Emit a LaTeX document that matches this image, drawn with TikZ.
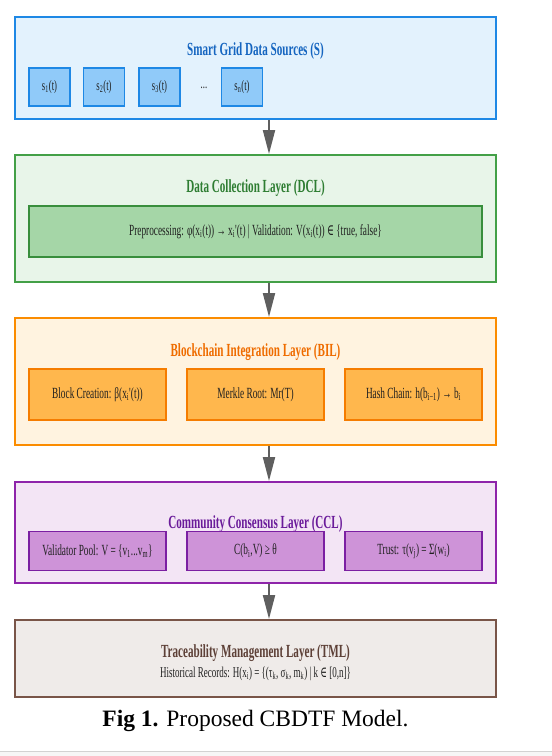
\documentclass[tikz,border=0pt]{standalone}
\usepackage{fontspec}
\usetikzlibrary{arrows.meta}
\setmainfont{Liberation Serif}
\newfontfamily\cond[FakeStretch=0.6]{Liberation Serif}
\newfontfamily\condsym[FakeStretch=0.6]{DejaVu Serif}
\newcommand{\elemof}{{\condsym ∈}}
\newcommand{\sbs}[1]{\textsubscript{#1}}
\definecolor{sFill}{HTML}{E3F2FD}
\definecolor{sDraw}{HTML}{1E88E5}
\definecolor{sTitle}{HTML}{1565C0}
\definecolor{sBox}{HTML}{90CAF9}
\definecolor{dFill}{HTML}{E8F5E9}
\definecolor{dDraw}{HTML}{43A047}
\definecolor{dTitle}{HTML}{2E7D32}
\definecolor{dBox}{HTML}{A5D6A7}
\definecolor{dBoxDraw}{HTML}{388E3C}
\definecolor{bFill}{HTML}{FFF3E0}
\definecolor{bDraw}{HTML}{FB8C00}
\definecolor{bTitle}{HTML}{EF6C00}
\definecolor{bBox}{HTML}{FFB74D}
\definecolor{bBoxDraw}{HTML}{F57C00}
\definecolor{cFill}{HTML}{F3E5F5}
\definecolor{cDraw}{HTML}{8E24AA}
\definecolor{cTitle}{HTML}{6A1B9A}
\definecolor{cBox}{HTML}{CE93D8}
\definecolor{cBoxDraw}{HTML}{7B1FA2}
\definecolor{tFill}{HTML}{EFEBE9}
\definecolor{tDraw}{HTML}{795548}
\definecolor{tTitle}{HTML}{5D4037}
\definecolor{txt}{HTML}{202020}
\definecolor{arrowc}{HTML}{5F5F5F}
\tikzset{
  layer/.style={draw, line width=2pt, rectangle, inner sep=0pt, minimum width=481pt},
  ltitle/.style={inner sep=0pt, font=\cond\bfseries\fontsize{18.5}{20}\selectfont},
  ibox/.style={draw, line width=1.3pt, rectangle, inner sep=0pt, text=txt, font=\cond\fontsize{15.5}{17}\selectfont},
  sbox/.style={ibox, fill=sBox, draw=sDraw, minimum width=41pt, minimum height=38pt, font=\cond\fontsize{14.5}{16}\selectfont},
  wbox/.style={ibox, minimum width=137pt, minimum height=51pt},
  cbox/.style={ibox, fill=cBox, draw=cBoxDraw, minimum width=137pt, minimum height=38.5pt},
  arr/.style={draw=arrowc, line width=2pt, -{Triangle[length=24pt,width=12pt]}, arrowc}
}
\begin{document}
\begin{tikzpicture}[x=1pt,y=-1pt]
\useasboundingbox (0,0) rectangle (552,756);
\fill[white] (0,0) rectangle (552,756);
% bottom strip
\fill[gray!7] (0,751) rectangle (552,756);
\draw[gray!35, line width=1pt] (0,751) -- (552,751);

% layers
\node[layer, draw=sDraw, fill=sFill, minimum height=102pt] (S) at (255.5,68) {};
\node[layer, draw=dDraw, fill=dFill, minimum height=127pt] (DCL) at (255.5,218.5) {};
\node[layer, draw=bDraw, fill=bFill, minimum height=127pt] (BIL) at (255.5,381.5) {};
\node[layer, draw=cDraw, fill=cFill, minimum height=101pt] (CCL) at (255.5,532.5) {};
\node[layer, draw=tDraw, fill=tFill, minimum height=77pt] (TML) at (255.5,658.5) {};

% titles
\node[ltitle, text=sTitle] (St) at (255.5,51) {Smart Grid Data Sources (S)};
\node[ltitle, text=dTitle] (Dt) at (255.5,188) {Data Collection Layer (DCL)};
\node[ltitle, text=bTitle] (Bt) at (255.5,352) {Blockchain Integration Layer (BIL)};
\node[ltitle, text=cTitle] (Ct) at (255.5,524) {Community Consensus Layer (CCL)};
\node[ltitle, text=tTitle] (Tt) at (255.5,653) {Traceability Management Layer (TML)};

% S boxes
\node[sbox] (s1) at (49.5,87) {s\sbs{1}(t)};
\node[sbox] (s2) at (104,87) {s\sbs{2}(t)};
\node[sbox] (s3) at (159.5,87) {s\sbs{3}(t)};
\node[inner sep=0pt, text=txt, font=\cond\fontsize{14.5}{16}\selectfont] (sdots) at (204,88) {...};
\node[sbox] (sn) at (242,87) {s\sbs{n}(t)};

% DCL inner
\node[ibox, fill=dBox, draw=dBoxDraw, minimum width=453pt, minimum height=51pt] (pre) at (255.5,231.5)
  {Preprocessing: φ(x\sbs{i}(t)) → x\sbs{i}'(t) | Validation: V(x\sbs{i}(t)) \elemof{} \{true, false\}};

% BIL inner
\node[wbox, fill=bBox, draw=bBoxDraw] (blk) at (97.5,394.5) {Block Creation: β(x\sbs{i}'(t))};
\node[wbox, fill=bBox, draw=bBoxDraw] (mrk) at (255.5,394.5) {Merkle Root: Mr(T)};
\node[wbox, fill=bBox, draw=bBoxDraw] (hsh) at (413.5,394.5) {Hash Chain: h(b\sbs{i−1}) → b\sbs{i}};

% CCL inner
\node[cbox] (vp) at (97.5,551) {Validator Pool: V = \{v\sbs{1}...v\sbs{m}\}};
\node[cbox] (cons) at (255.5,551) {C(b\sbs{i},V) ≥ θ};
\node[cbox] (tru) at (413.5,551) {Trust: τ(v\sbs{j}) = Σ(w\sbs{i})};

% TML line
\node[inner sep=0pt, text=txt, font=\cond\fontsize{15}{17}\selectfont] (hist) at (255.5,674)
  {Historical Records: H(x\sbs{i}) = \{(τ\sbs{k}, σ\sbs{k}, m\sbs{k}) | k \elemof{} [0,n]\}};

% arrows
\coordinate (ax) at (269,0);
\draw[arr] (S.south -| ax) -- (DCL.north -| ax);
\draw[arr] (DCL.south -| ax) -- (BIL.north -| ax);
\draw[arr] (BIL.south -| ax) -- (CCL.north -| ax);
\draw[arr] (CCL.south -| ax) -- (TML.north -| ax);

% caption
\node[inner sep=0pt, font=\fontsize{23.5}{27}\selectfont] (cap) at (255.5,721) {\textbf{Fig 1.} Proposed CBDTF Model.};
\end{tikzpicture}
\end{document}
